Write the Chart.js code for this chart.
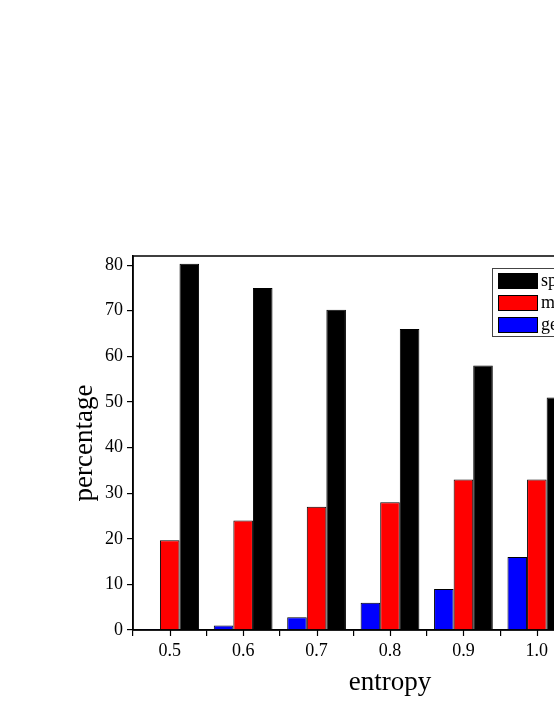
<!DOCTYPE html>
<html>
<head>
<meta charset="utf-8">
<script src="https://cdn.jsdelivr.net/npm/chart.js@4/dist/chart.umd.min.js"></script>
<style>
  html, body { margin: 0; padding: 0; background: #fff; overflow: hidden; }
  #wrap { position: absolute; left: 0; top: 0; width: 720px; height: 717px; }
</style>
</head>
<body>
<div id="wrap"><canvas id="chart" width="720" height="717"></canvas></div>
<script>
// entropy buckets and the share of each class (percent)
// the last bucket lies past the right edge of the picture, so it has no read values
const categories = ['0.5', '0.6', '0.7', '0.8', '0.9', '1.0', '1.1'];
const generalValues  = [0.2, 1, 2.8, 6, 9, 16, null];
const middleValues   = [19.7, 24, 27, 28, 33, 33, null];
const specificValues = [80.3, 75, 70.2, 66, 58, 51, null];
const yTicks = [0, 10, 20, 30, 40, 50, 60, 70, 80];
const seriesNames = ['specific', 'middle', 'general'];

const serif = "'Liberation Serif', 'DejaVu Serif', serif";

// frame round the plot + short ticks under each category centre
const framePlugin = {
  id: 'frame',
  afterDraw(chart) {
    const { ctx, chartArea: a } = chart;
    const x = chart.scales.x;
    ctx.save();
    ctx.strokeStyle = '#000';
    ctx.lineWidth = 1.5;
    ctx.strokeRect(a.left, a.top, a.right - a.left, a.bottom - a.top);
    ctx.lineWidth = 1.2;
    categories.forEach((c, i) => {
      const px = Math.round(x.getPixelForValue(i)) + 0.5;
      ctx.beginPath();
      ctx.moveTo(px, a.bottom);
      ctx.lineTo(px, a.bottom + 6);
      ctx.stroke();
    });
    ctx.restore();
  }
};

// boxed legend inside the top right corner
const legendPlugin = {
  id: 'boxLegend',
  afterDraw(chart) {
    const { ctx } = chart;
    const ds = chart.data.datasets.slice().reverse();
    ctx.save();
    ctx.fillStyle = '#fff';
    ctx.fillRect(492, 268, 140, 69);
    ctx.strokeStyle = '#444';
    ctx.lineWidth = 1;
    ctx.strokeRect(492.5, 268.5, 140, 68);
    ds.forEach((d, i) => {
      const y = 273 + i * 22;
      ctx.fillStyle = d.backgroundColor;
      ctx.fillRect(498, y, 40, 16);
      ctx.strokeStyle = '#000';
      ctx.strokeRect(498.5, y + 0.5, 39, 15);
      ctx.fillStyle = '#000';
      ctx.font = '18px ' + serif;
      ctx.textBaseline = 'middle';
      ctx.fillText(seriesNames[i], 541, y + 8);
    });
    ctx.restore();
  }
};

const ctx = document.getElementById('chart');
new Chart(ctx, {
  type: 'bar',
  data: {
    labels: categories,
    datasets: [
      { label: 'general', data: generalValues, backgroundColor: '#0000ff', borderColor: '#000', borderWidth: 1 },
      { label: 'middle', data: middleValues, backgroundColor: '#ff0000', borderColor: '#000', borderWidth: 1 },
      { label: 'specific', data: specificValues, backgroundColor: '#000000', borderColor: '#000', borderWidth: 1 }
    ]
  },
  options: {
    responsive: false,
    animation: false,
    devicePixelRatio: 1,
    layout: { padding: { left: 0, top: 256, right: 73, bottom: 0 } },
    datasets: { bar: { barPercentage: 1.0, categoryPercentage: 0.8 } },
    plugins: { legend: { display: false }, tooltip: { enabled: false } },
    scales: {
      x: {
        offset: true,
        grid: { drawOnChartArea: false, tickLength: 6, color: '#000', lineWidth: 1.2 },
        border: { color: '#000', width: 1.5 },
        ticks: { color: '#000', font: { family: serif, size: 18 }, padding: 4 },
        title: { display: true, text: 'entropy', color: '#000', font: { family: serif, size: 27 }, padding: { top: 0, bottom: 18 } },
        afterFit: s => { s.height = 87; }
      },
      y: {
        min: 0,
        max: 82,
        afterBuildTicks: s => { s.ticks = yTicks.map(v => ({ value: v })); },
        grid: { drawOnChartArea: false, tickLength: 6, color: '#000', lineWidth: 1.2 },
        border: { color: '#000', width: 1.5 },
        ticks: { color: '#000', font: { family: serif, size: 18 }, padding: 4 },
        title: { display: true, text: 'percentage', color: '#000', font: { family: serif, size: 27 }, padding: { top: 69, bottom: 0 } },
        afterFit: s => { s.width = 133; }
      }
    }
  },
  plugins: [framePlugin, legendPlugin]
});
</script>
</body>
</html>
